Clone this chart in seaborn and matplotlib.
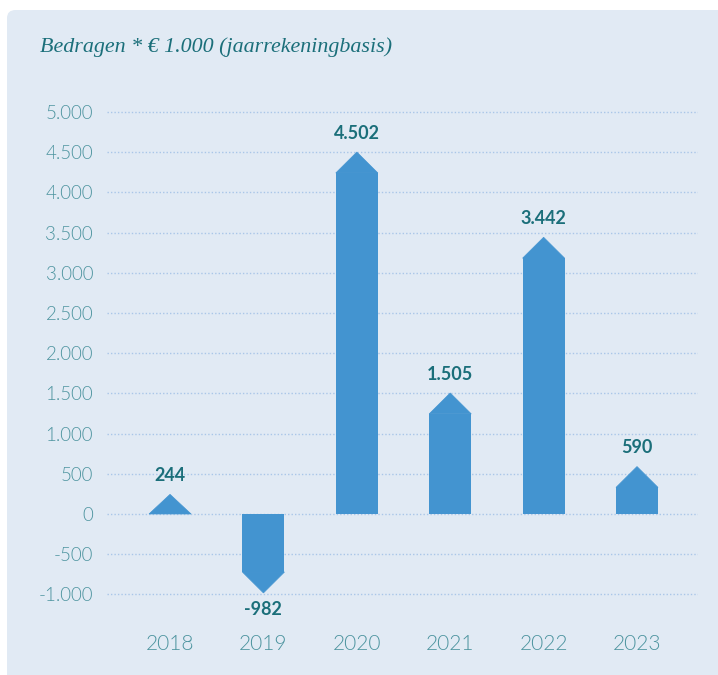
import numpy as np
import pandas as pd
import matplotlib
matplotlib.use("Agg")
import matplotlib.pyplot as plt
from matplotlib.patches import FancyBboxPatch, Polygon
import seaborn as sns

years = ["2018", "2019", "2020", "2021", "2022", "2023"]
values = [244, -982, 4502, 1505, 3442, 590]
value_labels = ["244", "-982", "4.502", "1.505", "3.442", "590"]
yticks = [-1000, -500, 0, 500, 1000, 1500, 2000, 2500, 3000, 3500, 4000, 4500, 5000]
ytick_labels = ["-1.000", "-500", "0", "500", "1.000", "1.500", "2.000", "2.500",
                "3.000", "3.500", "4.000", "4.500", "5.000"]

panel_col = "#e1eaf4"
bar_col = "#4394d0"
label_col = "#1b6f7a"
tick_col = "#4d949f"
grid_col = "#a9c6e8"
tip = 260  # height of the arrow point, data units

sns.set_theme(style="white")
plt.rcParams["font.family"] = ["Lato", "DejaVu Sans"]

fig = plt.figure(figsize=(7.18, 6.75), dpi=100)
fig.patch.set_facecolor("white")
panel = FancyBboxPatch((7 / 718, -0.02), 1 - 7 / 718 + 0.02, 1 - 10 / 675 + 0.02,
                       boxstyle="round,pad=0,rounding_size=0.012",
                       transform=fig.transFigure, facecolor=panel_col,
                       edgecolor="none", zorder=-10)
fig.patches.append(panel)

ax = fig.add_axes([107 / 718, 0.1135, 591 / 718, 0.7265])
ax.set_facecolor("none")
ax.set_zorder(1)

# body of each bar stops where the arrow point begins
shoulders = [np.sign(v) * max(abs(v) - tip, 0) for v in values]
df = pd.DataFrame({"year": years, "body": shoulders})
sns.barplot(data=df, x="year", y="body", color=bar_col, saturation=1,
            width=0.45, linewidth=0, edgecolor=bar_col, ax=ax, zorder=3)

for patch, v, s, lab in zip(ax.patches, values, shoulders, value_labels):
    x0 = patch.get_x()
    w = patch.get_width()
    ax.add_patch(Polygon([(x0, s), (x0 + w / 2, v), (x0 + w, s)],
                         closed=True, facecolor=bar_col, edgecolor=bar_col,
                         linewidth=0.5, zorder=3))
    off = 13.5 if v > 0 else -12
    ax.annotate(lab, (x0 + w / 2, v), xytext=(0, off), textcoords="offset points",
                ha="center", va="center", fontsize=13, fontweight="bold",
                color=label_col)

ax.set_xlim(-0.675, 5.653)
ax.set_ylim(-1050, 5050)
ax.set_yticks(yticks)
ax.set_yticklabels(ytick_labels)
ax.set_xlabel("")
ax.set_ylabel("")
for y in yticks:
    ax.axhline(y, color=grid_col, linestyle=(0, (1, 1.5)), linewidth=1, zorder=1)
for sp in ax.spines.values():
    sp.set_visible(False)
ax.tick_params(axis="y", length=0, pad=10, labelsize=13.5, labelcolor=tick_col)
ax.tick_params(axis="x", length=0, pad=26, labelsize=15, labelcolor=tick_col)
for t in ax.get_yticklabels() + ax.get_xticklabels():
    t.set_fontweight(300)

fig.text(40 / 718, 1 - 47 / 675, "Bedragen * € 1.000 (jaarrekeningbasis)",
         fontsize=15.8, style="italic", color=label_col, va="center", ha="left",
         family=["Liberation Serif", "DejaVu Serif"])

fig.savefig("out.png", dpi=100)
